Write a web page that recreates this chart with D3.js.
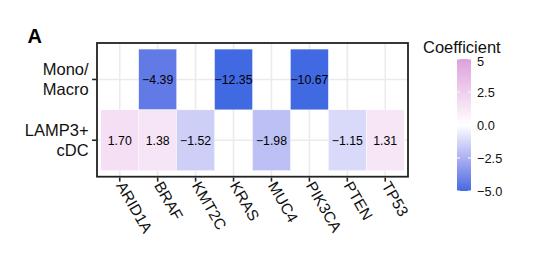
<!DOCTYPE html>
<html><head><meta charset="utf-8">
<script src="https://cdn.jsdelivr.net/npm/d3@7"></script>
<style>body{margin:0;background:#fff}svg{display:block}text{font-family:"Liberation Sans",Arial,sans-serif}</style>
</head><body><svg id="c" width="535" height="255"></svg>
<script>
const genes = ["ARID1A","BRAF","KMT2C","KRAS","MUC4","PIK3CA","PTEN","TP53"];
const cellTypes = ["Mono/Macro","LAMP3+ cDC"];
const cellTypeLines = [["Mono/","Macro"],["LAMP3+","cDC"]];
const monoValues = [null,-4.39,null,-12.35,null,-10.67,null,null];
const lampValues = [1.70,1.38,-1.52,null,-1.98,null,-1.15,1.31];
const legendBreaks = [5,2.5,0,-2.5,-5];
const legendLabels = ["5","2.5","0.0","\u22122.5","\u22125.0"];

const rows = [monoValues, lampValues];
const data = [];
rows.forEach((vals,r)=>vals.forEach((v,i)=>{ if(v!==null) data.push({cell:cellTypes[r],gene:genes[i],v}); }));

const svg = d3.select("#c");
const L=97,R=408,T=43,B=176.7;
const x = d3.scaleBand().domain(genes).range([L,R]).paddingInner(0).paddingOuter(0.1);
const y = d3.scaleBand().domain(cellTypes).range([T,B]).paddingInner(0).paddingOuter(0.1);

const low="#4169E1", high="#DDA0DD";
const color = v => {
  const c = Math.max(-5, Math.min(5, v));
  return c<0 ? d3.interpolateLab("#ffffff", low)(-c/5) : d3.interpolateLab("#ffffff", high)(c/5);
};

// title
svg.append("text").attr("x",27.5).attr("y",43).attr("font-size",20).attr("font-weight","bold").text("A");

// grid
const g = svg.append("g");
genes.forEach(d=>g.append("line").attr("x1",x(d)+x.bandwidth()/2).attr("x2",x(d)+x.bandwidth()/2).attr("y1",T).attr("y2",B).attr("stroke","#EBEBEB").attr("stroke-width",1.6));
cellTypes.forEach(d=>g.append("line").attr("y1",y(d)+y.bandwidth()/2).attr("y2",y(d)+y.bandwidth()/2).attr("x1",L).attr("x2",R).attr("stroke","#EBEBEB").attr("stroke-width",1.6));

// tiles
svg.append("g").selectAll("rect").data(data).join("rect")
  .attr("x",d=>x(d.gene)).attr("y",d=>y(d.cell))
  .attr("width",x.bandwidth()).attr("height",y.bandwidth())
  .attr("fill",d=>color(d.v)).attr("stroke","#fff").attr("stroke-width",0.4);

svg.append("g").selectAll("text").data(data).join("text")
  .attr("x",d=>x(d.gene)+x.bandwidth()/2).attr("y",d=>y(d.cell)+y.bandwidth()/2)
  .attr("text-anchor","middle").attr("dy","0.36em").attr("font-size",12.3).attr("fill","#000")
  .text(d=>d3.format(".2f")(d.v).replace("-","\u2212"));

// border
svg.append("rect").attr("x",L).attr("y",T).attr("width",R-L).attr("height",B-T)
  .attr("fill","none").attr("stroke","#222").attr("stroke-width",1.8);

// y axis
const ya = svg.append("g").attr("transform",`translate(${L-0.9},0)`).call(d3.axisLeft(y).tickSize(4).tickPadding(4));
ya.select(".domain").remove();
ya.selectAll(".tick line").attr("stroke","#222").attr("stroke-width",1.6);
ya.selectAll(".tick text").attr("font-size",16.5).attr("fill","#111").attr("dy",null).each(function(d,i){
  const t=d3.select(this); t.text(null);
  const lines=cellTypeLines[cellTypes.indexOf(d)];
  lines.forEach((s,j)=>t.append("tspan").attr("x",-7.5).attr("y",(j-0.5)*20).attr("dy","0.35em").text(s));
});

// x axis
const xa = svg.append("g").attr("transform",`translate(0,${B+0.9})`).call(d3.axisBottom(x).tickSize(4).tickPadding(3));
xa.select(".domain").remove();
xa.selectAll(".tick line").attr("stroke","#222").attr("stroke-width",1.6);
xa.selectAll(".tick text").attr("font-size",15.5).attr("fill","#111")
  .attr("text-anchor","start").attr("y",0).attr("dy",0)
  .attr("transform","translate(-4,8) rotate(60)");

// legend
const lx=457, lw=14, lTop=59, lBot=191;
const ly = d3.scaleLinear().domain([5,-5]).range([lTop,lBot]);
const defs=svg.append("defs");
const grad=defs.append("linearGradient").attr("id","lg").attr("x1",0).attr("x2",0).attr("y1",0).attr("y2",1);
d3.range(0,21).forEach(i=>{const v=5-i*0.5; grad.append("stop").attr("offset",(i/20)).attr("stop-color",color(v));});
svg.append("text").attr("x",423).attr("y",52.5).attr("font-size",16.5).attr("fill","#111").text("Coefficient");
svg.append("rect").attr("x",lx).attr("y",lTop).attr("width",lw).attr("height",lBot-lTop).attr("fill","url(#lg)");
legendBreaks.forEach((b,i)=>{
  svg.append("line").attr("x1",lx).attr("x2",lx+3).attr("y1",ly(b)).attr("y2",ly(b)).attr("stroke","#fff").attr("stroke-width",1);
  svg.append("line").attr("x1",lx+lw-3).attr("x2",lx+lw).attr("y1",ly(b)).attr("y2",ly(b)).attr("stroke","#fff").attr("stroke-width",1);
  svg.append("text").attr("x",477).attr("y",ly(b)+(i===0?2.5:0.8)).attr("dy","0.36em").attr("font-size",12.8).attr("fill","#111").text(legendLabels[i]);
});
</script></body></html>
